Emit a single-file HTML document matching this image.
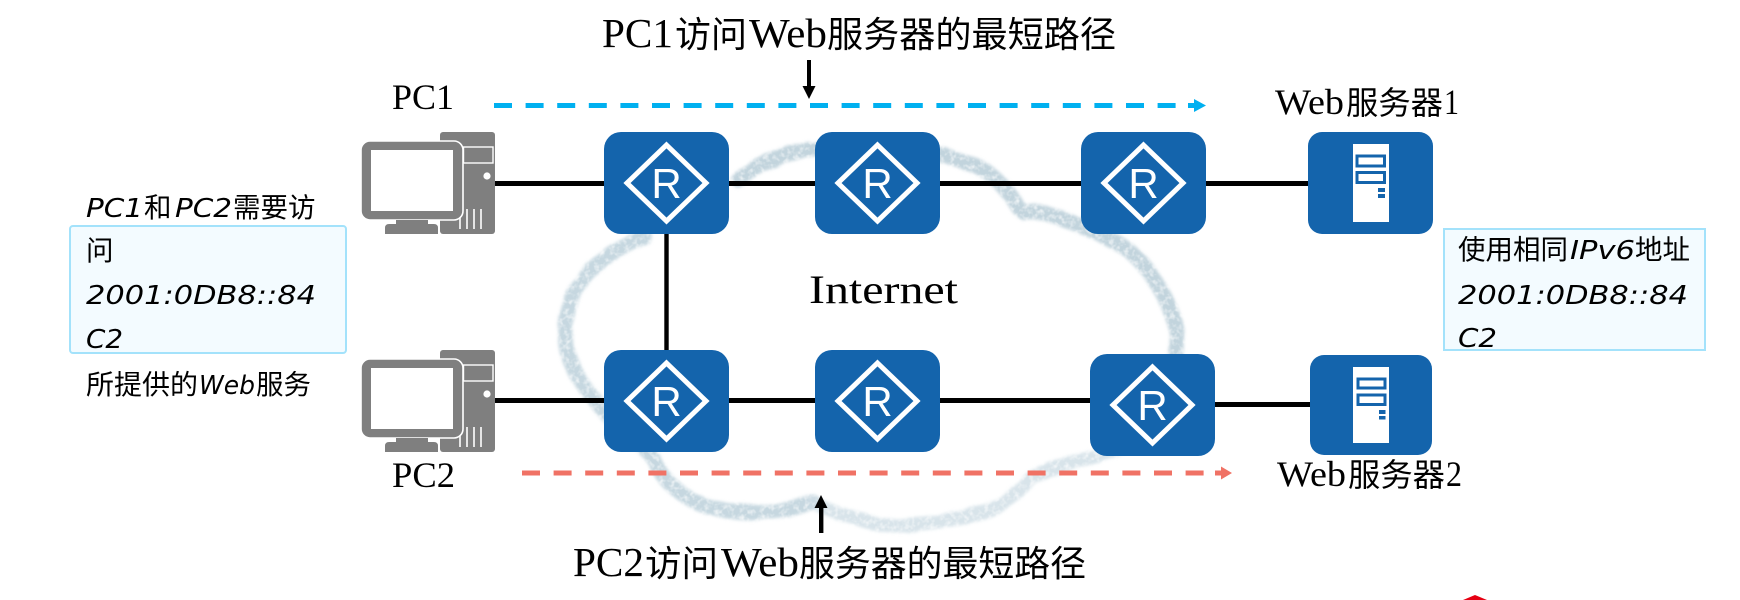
<!DOCTYPE html>
<html>
<head>
<meta charset="utf-8">
<style>
html,body{margin:0;padding:0;background:#fff;width:1740px;height:600px;overflow:hidden}
svg{display:block}
.s{font-family:"Liberation Serif","Noto Sans CJK SC",serif;fill:#000}
.c{font-family:"Noto Sans CJK SC","Liberation Sans",sans-serif;fill:#000}
.h{font-family:"DejaVu Sans","Noto Sans CJK SC",sans-serif;font-style:italic;font-size:26px;fill:#000}
.r{font-family:"Liberation Sans",sans-serif;font-size:42px;fill:#fff;text-anchor:middle}
</style>
</head>
<body>
<svg width="1740" height="600" viewBox="0 0 1740 600" xmlns="http://www.w3.org/2000/svg">
<defs>
<filter id="wc" x="-5%" y="-5%" width="110%" height="110%">
<feTurbulence type="fractalNoise" baseFrequency="0.035" numOctaves="2" seed="4" result="n"/>
<feDisplacementMap in="SourceGraphic" in2="n" scale="6" result="d"/>
<feGaussianBlur in="d" stdDeviation="1.7" result="b"/>
<feTurbulence type="fractalNoise" baseFrequency="0.2" numOctaves="2" seed="9" result="m"/>
<feColorMatrix in="m" type="matrix" values="0 0 0 0 0  0 0 0 0 0  0 0 0 0 0  1.6 0 0 0 0.1" result="ma"/>
<feComposite in="b" in2="ma" operator="in"/>
</filter>
<g id="pc">
<rect x="440" y="132" width="55" height="102" rx="3" fill="#7f7f7f"/>
<rect x="463.5" y="147" width="29.5" height="16" fill="none" stroke="#fff" stroke-width="1.4"/>
<circle cx="487" cy="176" r="3.6" fill="#fff"/>
<g stroke="#fff" stroke-width="1.6"><line x1="460" y1="209" x2="460" y2="229"/><line x1="467" y1="209" x2="467" y2="229"/><line x1="474" y1="209" x2="474" y2="229"/><line x1="481" y1="209" x2="481" y2="229"/></g>
<rect x="361" y="141" width="102" height="79" rx="9" fill="#7f7f7f" stroke="#fff" stroke-width="1.6"/>
<rect x="371" y="150" width="82" height="61" fill="#fff"/>
<rect x="396" y="220" width="32" height="4" fill="#7f7f7f"/>
<path d="M385 234V228Q385 224 389 224H434Q438 224 438 228V234Z" fill="#7f7f7f"/>
</g>
<g id="dia"><polygon points="0,-38 39.5,0 0,38 -39.5,0" fill="none" stroke="#fff" stroke-width="5"/></g>
</defs>
<rect width="1740" height="600" fill="#fff"/>

<!-- cloud -->
<g fill="none" stroke-linecap="round" stroke-linejoin="round" filter="url(#wc)">
<path d="M645 238C612 247 586 270 572 297C565 315 564 335 567 350C572 372 586 390 603 410C625 434 645 445 654 460C662 478 675 494 708 507C728 512 750 513 763 512C785 511 800 506 814 503" stroke="#bcd0da" stroke-width="15" opacity=".85"/>
<path d="M738 180C748 172 763 163 790 154C800 151 808 150 814 150L944 155C955 159 966 162 978 167C995 176 1003 186 1010 195C1016 204 1018 209 1024 212C1032 212 1040 212 1048 214C1062 218 1075 223 1090 230C1110 238 1125 246 1135 256C1150 270 1163 290 1172 315C1178 330 1178 345 1176 360" stroke="#bbcfd9" stroke-width="15" opacity=".9"/>
<path d="M814 503C828 510 842 514 856 518C872 524 885 526 898 525C920 524 936 523 952 520C972 515 987 512 999 506C1015 497 1022 488 1032 478C1048 468 1066 465 1083 460C1097 456 1110 452 1125 446" stroke="#cbdbe3" stroke-width="14" opacity=".75"/>
</g>

<!-- links -->
<g stroke="#000" stroke-width="5" fill="none">
<line x1="495" y1="183.5" x2="1310" y2="183.5"/>
<line x1="495" y1="400.5" x2="1095" y2="400.5"/>
<line x1="1210" y1="404.5" x2="1312" y2="404.5"/>
<line x1="666.5" y1="232" x2="666.5" y2="352" stroke-width="4.4"/>
</g>

<!-- PCs -->
<use href="#pc"/>
<use href="#pc" transform="translate(0,218)"/>

<!-- routers -->
<g fill="#1464ac">
<rect x="604" y="132" width="125" height="102" rx="17"/>
<rect x="815" y="132" width="125" height="102" rx="17"/>
<rect x="1081" y="132" width="125" height="102" rx="17"/>
<rect x="604" y="350" width="125" height="102" rx="17"/>
<rect x="815" y="350" width="125" height="102" rx="17"/>
<rect x="1090" y="354" width="125" height="102" rx="17"/>
<rect x="1308" y="132" width="125" height="102" rx="14"/>
<rect x="1310" y="355" width="122" height="100" rx="14"/>
</g>
<use href="#dia" transform="translate(666.5,183)"/>
<use href="#dia" transform="translate(877.5,183)"/>
<use href="#dia" transform="translate(1143.5,183)"/>
<use href="#dia" transform="translate(666.5,401)"/>
<use href="#dia" transform="translate(877.5,401)"/>
<use href="#dia" transform="translate(1152.5,405)"/>
<text class="r" x="666.5" y="198">R</text>
<text class="r" x="877.5" y="198">R</text>
<text class="r" x="1143.5" y="198">R</text>
<text class="r" x="666.5" y="416">R</text>
<text class="r" x="877.5" y="416">R</text>
<text class="r" x="1152.5" y="420">R</text>

<!-- servers -->
<rect x="1353" y="144" width="36" height="78" fill="#fff"/>
<g fill="none" stroke="#1464ac" stroke-width="3"><rect x="1357" y="156" width="27.5" height="10"/><rect x="1357" y="172.5" width="27.5" height="10"/></g>
<g fill="#1464ac"><rect x="1378" y="188" width="7" height="4"/><rect x="1378" y="194" width="7" height="4"/></g>
<rect x="1353" y="367" width="36" height="76" fill="#fff"/>
<g fill="none" stroke="#1464ac" stroke-width="3"><rect x="1358" y="379" width="27" height="9"/><rect x="1358" y="395" width="27" height="9.5"/></g>
<g fill="#1464ac"><rect x="1379" y="410" width="6.5" height="4"/><rect x="1379" y="416" width="6.5" height="3.5"/></g>

<!-- dashed arrows -->
<line x1="494" y1="105.5" x2="1190" y2="105.5" stroke="#00b0f0" stroke-width="5" stroke-dasharray="18 13.6"/>
<polygon points="1206,105.5 1194,99 1194,103 1188,103 1188,108 1194,108 1194,112" fill="#00b0f0"/>
<line x1="522" y1="473" x2="1216" y2="473" stroke="#f07265" stroke-width="5" stroke-dasharray="18 13.6"/>
<polygon points="1232,473 1221,466.5 1221,470.5 1215,470.5 1215,475.5 1221,475.5 1221,479.5" fill="#f07265"/>

<!-- black arrows -->
<rect x="807" y="60" width="4" height="30" fill="#000"/>
<polygon points="809,99 802.5,86 815.5,86" fill="#000"/>
<rect x="819" y="505" width="4.4" height="28" fill="#000"/>
<polygon points="821,495 814.5,508 827.5,508" fill="#000"/>

<!-- titles -->
<text class="s" x="602" y="47" font-size="41" textLength="71" lengthAdjust="spacingAndGlyphs">PC1</text>
<text class="c" x="675" y="47" font-size="36" textLength="72" lengthAdjust="spacingAndGlyphs">访问</text>
<text class="s" x="749" y="47" font-size="41" textLength="78" lengthAdjust="spacingAndGlyphs">Web</text>
<text class="c" x="827" y="47" font-size="36" textLength="289" lengthAdjust="spacingAndGlyphs">服务器的最短路径</text>

<text class="s" x="573" y="576" font-size="41" textLength="71" lengthAdjust="spacingAndGlyphs">PC2</text>
<text class="c" x="645" y="576" font-size="36" textLength="73" lengthAdjust="spacingAndGlyphs">访问</text>
<text class="s" x="721" y="576" font-size="41" textLength="78" lengthAdjust="spacingAndGlyphs">Web</text>
<text class="c" x="799" y="576" font-size="36" textLength="287" lengthAdjust="spacingAndGlyphs">服务器的最短路径</text>

<!-- node labels -->
<text class="s" x="392" y="109" font-size="36" textLength="62" lengthAdjust="spacingAndGlyphs">PC1</text>
<text class="s" x="392" y="487" font-size="36" textLength="63" lengthAdjust="spacingAndGlyphs">PC2</text>
<text class="s" x="1275" y="114" font-size="36" textLength="69" lengthAdjust="spacingAndGlyphs">Web</text>
<text class="c" x="1346" y="114" font-size="32" textLength="97" lengthAdjust="spacingAndGlyphs">服务器</text>
<text class="s" x="1444" y="114" font-size="36" textLength="15" lengthAdjust="spacingAndGlyphs">1</text>
<text class="s" x="1277" y="486" font-size="36" textLength="69" lengthAdjust="spacingAndGlyphs">Web</text>
<text class="c" x="1348" y="486" font-size="32" textLength="97" lengthAdjust="spacingAndGlyphs">服务器</text>
<text class="s" x="1446" y="486" font-size="36" textLength="16" lengthAdjust="spacingAndGlyphs">2</text>
<text class="s" x="809" y="303" font-size="40" textLength="149" lengthAdjust="spacingAndGlyphs">Internet</text>

<!-- left note -->
<rect x="70" y="226" width="276" height="127" rx="3" fill="#f3fbff" stroke="#a3e2fb" stroke-width="2"/>
<text class="h" x="86" y="217" textLength="57" lengthAdjust="spacingAndGlyphs">PC1</text>
<text class="c" x="144" y="217" font-size="27.5">和</text>
<text class="h" x="175" y="217" textLength="57" lengthAdjust="spacingAndGlyphs">PC2</text>
<text class="c" x="233" y="217" font-size="27.5">需要访</text>
<text class="c" x="86" y="260" font-size="27.5">问</text>
<text class="h" x="86" y="304" textLength="230" lengthAdjust="spacingAndGlyphs">2001:0DB8::84</text>
<text class="h" x="86" y="348" textLength="37" lengthAdjust="spacingAndGlyphs">C2</text>
<text class="c" x="86" y="394" font-size="27.5" textLength="112" lengthAdjust="spacingAndGlyphs">所提供的</text>
<text class="h" x="199" y="394" textLength="56" lengthAdjust="spacingAndGlyphs">Web</text>
<text class="c" x="256" y="394" font-size="27.5" textLength="55" lengthAdjust="spacingAndGlyphs">服务</text>

<!-- right note -->
<rect x="1444" y="229" width="261" height="121" fill="#f3fbff" stroke="#a3e2fb" stroke-width="2"/>
<text class="c" x="1458" y="259" font-size="27.5" textLength="110" lengthAdjust="spacingAndGlyphs">使用相同</text>
<text class="h" x="1570" y="259" textLength="65" lengthAdjust="spacingAndGlyphs">IPv6</text>
<text class="c" x="1635" y="259" font-size="27.5" textLength="55" lengthAdjust="spacingAndGlyphs">地址</text>
<text class="h" x="1458" y="304" textLength="230" lengthAdjust="spacingAndGlyphs">2001:0DB8::84</text>
<text class="h" x="1458" y="347" textLength="39" lengthAdjust="spacingAndGlyphs">C2</text>

<!-- red corner -->
<polygon points="1475,595 1487,600 1463,600" fill="#e60012"/>
</svg>
</body>
</html>
